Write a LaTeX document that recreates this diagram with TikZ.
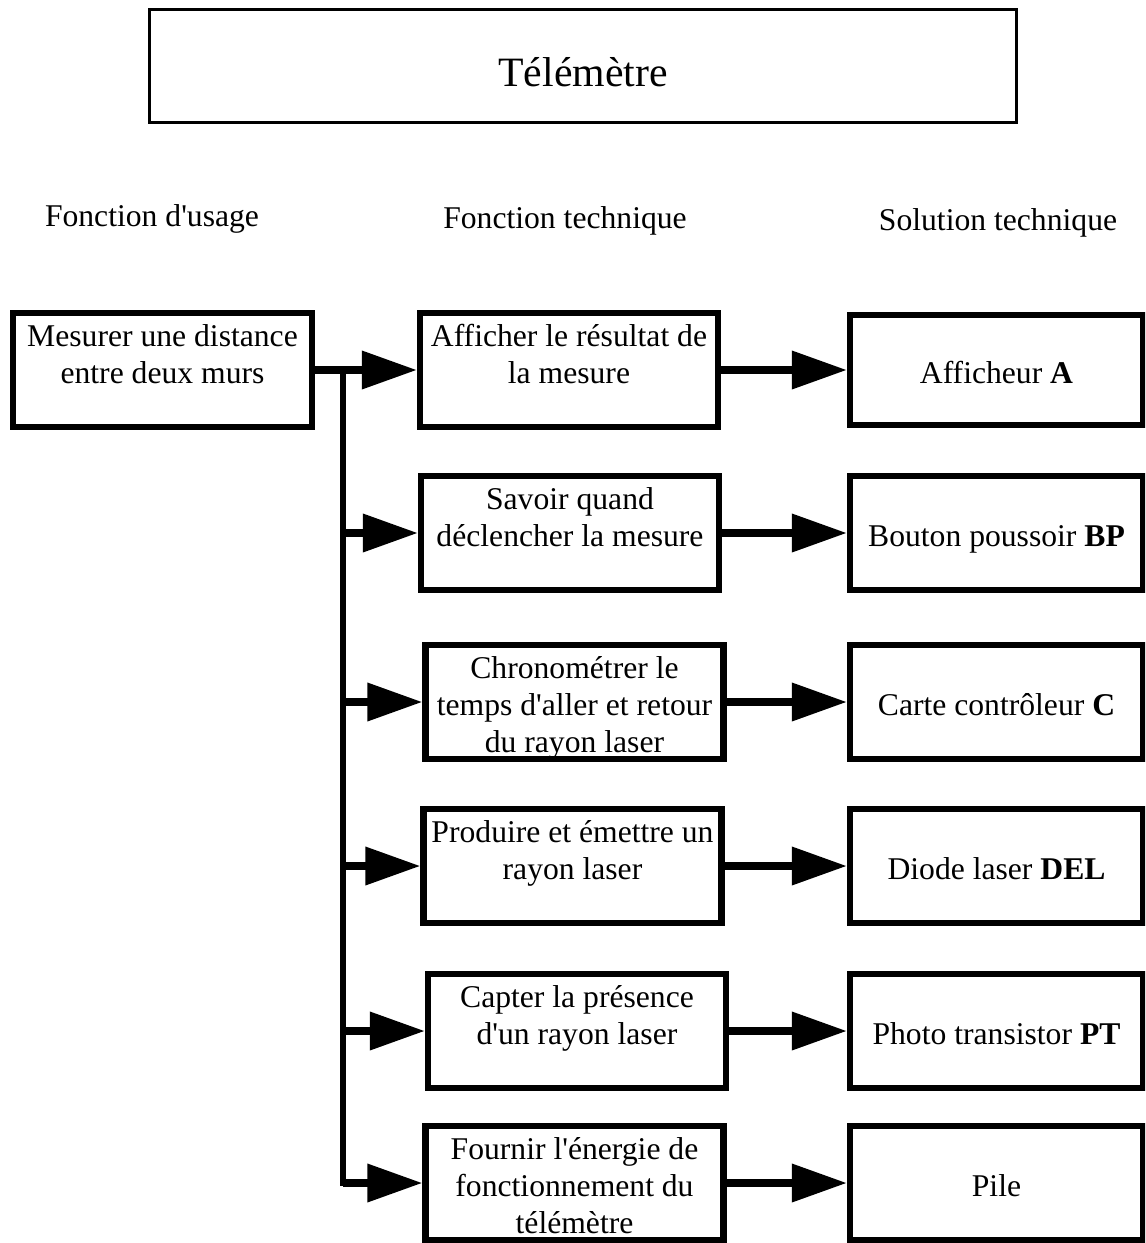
\documentclass[tikz,border=0pt]{standalone}
\usepackage{fontspec}
\setmainfont{Liberation Serif}[Ligatures=TeXOff]
\usetikzlibrary{arrows.meta}

\begin{document}
\begin{tikzpicture}[
  x=0.025cm, y=-0.025cm,
  every node/.style={font=\fontsize{22.5}{26.3}\selectfont},
  box/.style={draw, line width=0.16cm, minimum width=7.45cm,
              minimum height=2.85cm, inner sep=0pt},
  toptext/.style={anchor=north, align=center, inner sep=0pt, yshift=-0.35cm},
  fbox/.style={box, label={[toptext]north:#1}},
  sbox/.style={box, minimum width=7.325cm, align=center,
               text height=0.75cm, text depth=0.1cm},
  arrow/.style={-{Triangle[length=1.375cm, width=0.925cm]}, line width=0.18cm},
  trunk/.style={line width=0.17cm, line cap=rect}
]
  \clip (0,0) rectangle (1145,1243);

  \node[draw, line width=0.075cm, minimum width=21.675cm, minimum height=2.825cm,
        label={[yshift=-0.15cm, font=\fontsize{29.7}{34}\selectfont]center:Télémètre}]
        (titre) at (583,66) {};

  \node (hu) at (152,219) {Fonction d'usage};
  \node (ht) at (565,221) {Fonction technique};
  \node (hs) at (998,223) {Solution technique};

  \node[fbox={Mesurer une distance\\entre deux murs}, minimum width=7.475cm] (usage) at (162.5,370) {};

  \node[fbox={Afficher le résultat de\\la mesure}]                       (m1) at (569,370)    {};
  \node[fbox={Savoir quand\\déclencher la mesure}]                      (m2) at (570,533)    {};
  \node[fbox={Chronométrer le\\temps d'aller et retour\\du rayon laser}] (m3) at (574.5,702)  {};
  \node[fbox={Produire et émettre un\\rayon laser}]                     (m4) at (572.5,866)  {};
  \node[fbox={Capter la présence\\d'un rayon laser}]                    (m5) at (577,1031)   {};
  \node[fbox={Fournir l'énergie de\\fonctionnement du\\télémètre}]      (m6) at (574.5,1183) {};

  \node[sbox, minimum height=2.75cm] (s1) at (996.5,370)  {Afficheur \textbf{A}};
  \node[sbox] (s2) at (996.5,533)  {Bouton poussoir \textbf{BP}};
  \node[sbox] (s3) at (996.5,702)  {Carte contrôleur \textbf{C}};
  \node[sbox] (s4) at (996.5,866)  {Diode laser \textbf{DEL}};
  \node[sbox] (s5) at (996.5,1031) {Photo transistor \textbf{PT}};
  \node[sbox] (s6) at (996.5,1183) {Pile};

  \coordinate (tronc) at (343,370);

  \draw[arrow] (usage) -- (m1);
  \draw[trunk] (tronc) -- (tronc |- m6);
  \foreach \i in {2,...,6}
    \draw[arrow] (tronc |- m\i) -- (m\i);
  \foreach \i in {1,...,6}
    \draw[arrow] (m\i) -- (s\i);
\end{tikzpicture}
\end{document}
